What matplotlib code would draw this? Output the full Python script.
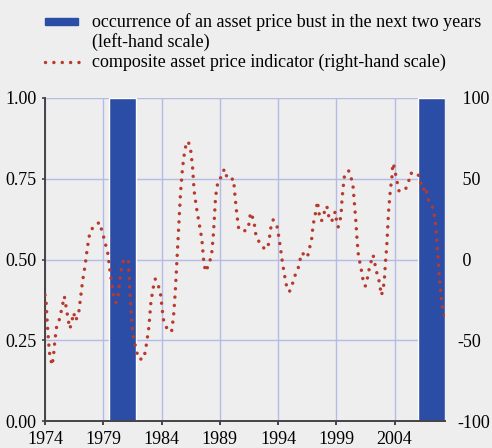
import matplotlib
matplotlib.use("Agg")
import matplotlib.pyplot as plt
from matplotlib.lines import Line2D
from matplotlib.patches import Rectangle
import numpy as np

# ---------------- data ----------------
# periods in which an asset price bust occurs in the next two years (left-hand scale)
bust_start = [1979.5, 2006.0]
bust_end = [1981.85, 2008.33]
bust_height = [1.0, 1.0]

# composite asset price indicator (right-hand scale)
ind_years = [
    1974.00, 1974.10, 1974.20, 1974.32, 1974.42, 1974.62, 1974.75, 1974.85, 1975.00, 1975.26,
    1975.54, 1975.66, 1975.89, 1976.12, 1976.23, 1976.46, 1976.63, 1976.89, 1977.06, 1977.23,
    1977.46, 1977.63, 1977.86, 1978.26, 1978.69, 1978.86, 1979.06, 1979.40, 1979.57, 1979.77,
    1979.86, 1980.09, 1980.23, 1980.40, 1980.58, 1980.78, 1981.15, 1981.23, 1981.29, 1981.38,
    1981.57, 1981.86, 1982.06, 1982.49, 1982.72, 1982.92, 1983.09, 1983.32, 1983.46, 1983.75,
    1983.92, 1984.15, 1984.35, 1984.86, 1985.03, 1985.18, 1985.29, 1985.41, 1985.52, 1985.63,
    1985.80, 1985.98, 1986.15, 1986.30, 1986.50, 1986.66, 1986.80, 1987.00, 1987.23, 1987.46,
    1987.58, 1987.64, 1987.80, 1988.12, 1988.30, 1988.43, 1988.52, 1988.64, 1988.86, 1989.18,
    1989.38, 1989.52, 1989.80, 1990.18, 1990.30, 1990.44, 1990.61, 1991.00, 1991.44, 1991.64,
    1991.92, 1992.12, 1992.47, 1992.90, 1993.18, 1993.38, 1993.58, 1993.87, 1994.00, 1994.21,
    1994.40, 1994.64, 1994.78, 1994.98, 1995.24, 1995.44, 1995.72, 1995.87, 1996.10, 1996.32,
    1996.53, 1996.67, 1996.87, 1997.01, 1997.16, 1997.39, 1997.47, 1997.58, 1997.73, 1997.95,
    1998.19, 1998.30, 1998.53, 1998.73, 1998.90, 1999.00, 1999.16, 1999.30, 1999.41, 1999.50,
    1999.64, 1999.73, 2000.07, 2000.30, 2000.44, 2000.56, 2000.67, 2000.76, 2000.87, 2000.99,
    2001.13, 2001.25, 2001.36, 2001.50, 2001.67, 2001.81, 2001.98, 2002.16, 2002.30, 2002.44,
    2002.64, 2002.76, 2002.88, 2003.05, 2003.13, 2003.22, 2003.33, 2003.48, 2003.65, 2003.76,
    2003.85, 2003.99, 2004.10, 2004.25, 2004.39, 2004.96, 2005.22, 2005.39, 2005.71, 2006.02,
    2006.22, 2006.45, 2006.68, 2006.79, 2006.96, 2007.28, 2007.42, 2007.51, 2007.62, 2007.73,
    2007.82, 2007.94, 2008.08, 2008.16, 2008.30,
]
ind_values = [
    -22.0, -27.0, -40.0, -52.0, -60.0, -65.5, -58.0, -50.0, -41.4, -36.6,
    -26.7, -22.8, -32.9, -42.8, -40.8, -32.9, -37.9, -33.3, -23.0, -13.1,
    -2.8, 7.1, 17.2, 21.2, 23.0, 18.3, 13.3, 3.4, -6.7, -16.8,
    -22.0, -26.7, -24.6, -14.3, -4.0, 0.5, -1.3, -11.5, -21.8, -31.9,
    -47.2, -57.0, -61.8, -61.4, -51.9, -41.6, -26.3, -16.2, -12.1, -16.8,
    -21.6, -36.8, -41.6, -44.9, -35.4, -20.1, -4.8, 10.6, 25.9, 41.2,
    56.5, 66.7, 72.6, 73.0, 67.8, 57.7, 42.4, 32.1, 22.4, 12.7,
    2.4, -2.6, -7.5, -1.7, 3.2, 13.5, 23.6, 38.9, 49.2, 51.3,
    56.0, 52.5, 49.2, 50.0, 39.9, 29.6, 19.7, 17.2, 19.1, 29.0,
    24.3, 14.1, 9.8, 6.1, 9.4, 19.5, 24.5, 22.2, 17.2, 7.1,
    -3.0, -13.1, -18.1, -19.9, -15.0, -10.2, -5.7, -0.5, 4.2, 1.4,
    1.7, 6.3, 11.5, 21.5, 26.5, 36.0, 31.0, 26.1, 23.8, 28.8,
    33.1, 28.0, 23.4, 25.0, 29.6, 25.0, 20.1, 23.4, 28.0, 38.0,
    48.2, 53.4, 54.8, 49.8, 45.1, 34.8, 24.6, 14.6, 4.2, -0.7,
    -5.7, -10.6, -15.8, -16.4, -11.5, -6.3, -1.5, 2.8, -2.4, -7.3,
    -12.1, -17.0, -22.2, -17.0, -11.9, -2.0, 8.1, 29.0, 44.1, 49.2,
    59.6, 57.0, 52.3, 46.9, 42.2, 43.8, 48.6, 53.6, 52.3, 52.8,
    47.8, 43.0, 45.1, 39.9, 35.2, 32.1, 27.1, 22.2, 11.9, 1.5,
    -8.5, -18.9, -28.6, -31.7, -35.0,
]

x_ticks = [1974, 1979, 1984, 1989, 1994, 1999, 2004]
left_ticks = [0.0, 0.25, 0.5, 0.75, 1.0]
left_labels = ["0.00", "0.25", "0.50", "0.75", "1.00"]
right_ticks = [-100, -50, 0, 50, 100]
right_labels = ["-100", "-50", " 0", " 50", " 100"]

legend_bar_label = ["occurrence of an asset price bust in the next two years", "(left-hand scale)"]
legend_line_label = "composite asset price indicator (right-hand scale)"

# ---------------- style ----------------
plt.rcParams["font.family"] = ["Liberation Serif", "DejaVu Serif"]
BG = "#eeeeee"
BLUE = "#2c4da6"
RED = "#b83a2e"
GRID = "#b5bbe6"
FS = 13

W, H = 492, 448
fig = plt.figure(figsize=(W / 100, H / 100), dpi=100)
fig.patch.set_facecolor(BG)

ax = fig.add_axes([45 / W, 1 - 421 / H, 400 / W, 323 / H])
ax.set_facecolor(BG)
ax.set_xlim(1974, 2008.33)
ax.set_ylim(0, 1)

widths = [e - s for s, e in zip(bust_start, bust_end)]
ax.bar(bust_start, bust_height, width=widths, align="edge", color=BLUE,
       edgecolor="white", linewidth=1.0, zorder=3)

ax.set_xticks(x_ticks)
ax.set_xticklabels([str(t) for t in x_ticks], fontsize=FS)
ax.set_yticks(left_ticks)
ax.set_yticklabels(left_labels, fontsize=FS)
ax.grid(True, color=GRID, linewidth=1.0, zorder=0)
ax.set_axisbelow(True)
for s in ["top", "right"]:
    ax.spines[s].set_visible(False)
for s in ["left", "bottom"]:
    ax.spines[s].set_color("#444444")
    ax.spines[s].set_linewidth(1.4)
    ax.spines[s].set_zorder(5)
ax.tick_params(axis="x", direction="out", length=3, width=1.4, color="#444444", pad=4)
ax.tick_params(axis="y", direction="out", length=2, width=1.2, color="#444444", pad=4)

ax2 = ax.twinx()
ax2.set_ylim(-100, 100)
ax2.set_xlim(1974, 2008.33)
for s in ax2.spines.values():
    s.set_visible(False)
ax2.set_yticks(right_ticks)
ax2.set_yticklabels(right_labels, fontsize=FS)
ax2.tick_params(axis="y", length=0, pad=9)
ax2.plot(ind_years, ind_values, color=RED, linewidth=2.5,
         linestyle=(0, (0.01, 2.4)), dash_capstyle="round", zorder=4)

# ---------------- legend (manual) ----------------
def fy(py):
    return 1 - py / H

def fx(px):
    return px / W

fig.patches.append(Rectangle((fx(44.5), fy(25)), fx(78) - fx(44.5), fy(18.5) - fy(25),
                             transform=fig.transFigure, color=BLUE))
fig.lines.append(Line2D([fx(45), fx(79)], [fy(62.3), fy(62.3)], transform=fig.transFigure,
                        color=RED, linewidth=2.5, linestyle=(0, (0.01, 2.4)),
                        dash_capstyle="round"))
fig.text(fx(92.5), fy(27), legend_bar_label[0], fontsize=FS, va="baseline", ha="left")
fig.text(fx(92.5), fy(47), legend_bar_label[1], fontsize=FS, va="baseline", ha="left")
fig.text(fx(92.5), fy(67), legend_line_label, fontsize=FS, va="baseline", ha="left")

fig.savefig("out.png", dpi=100, facecolor=BG)
